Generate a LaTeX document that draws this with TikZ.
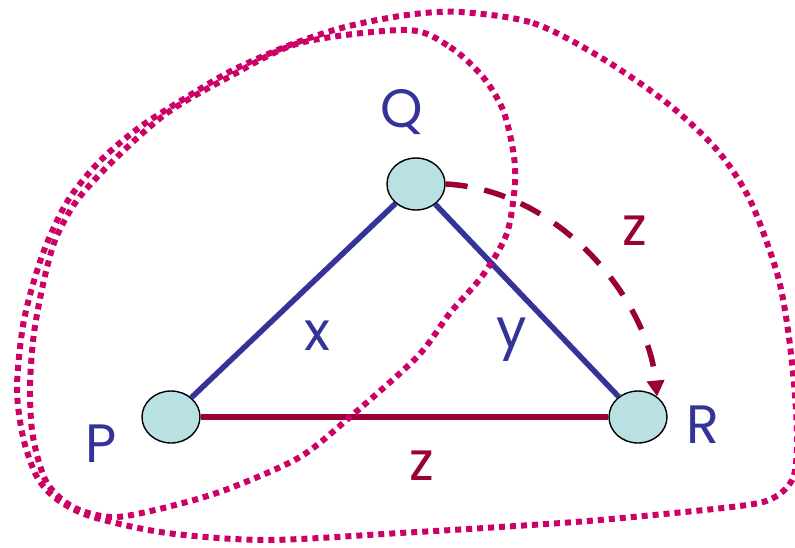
\documentclass[tikz,border=0pt]{standalone}
\usepackage{fontspec}
\setmainfont{Poppins}
\usetikzlibrary{shapes.geometric,arrows.meta}

\definecolor{edgeblue}{HTML}{333399}
\definecolor{edgered}{HTML}{990033}
\definecolor{cutpink}{HTML}{CC0066}
\definecolor{vertfill}{HTML}{B9E0E3}

\tikzset{
  vert/.style={ellipse, draw=black, line width=1.4pt, fill=vertfill,
    minimum width=58pt, minimum height=52pt, inner sep=0pt},
  lbl/.style={anchor=base, inner sep=0pt, font=\fontsize{54}{58}\selectfont},
  cut/.style={cutpink, line width=6pt, dash pattern=on 6pt off 5pt},
}

\begin{document}
\begin{tikzpicture}[x=1pt, y=-1pt, >={Triangle[length=16pt,width=17pt]}]
    \useasboundingbox (0,0) rectangle (795,547);

    \node[vert] (P) at (171,417) {};
    \node[vert] (Q) at (416,184) {};
    \node[vert] (R) at (638,417) {};

    \draw[edgeblue, line width=5.5pt] (P) -- (Q) -- (R);
    \draw[edgered, line width=5.5pt] (P.east) -- (R.west);
    \draw[edgered, line width=5.5pt, dash pattern=on 22pt off 17pt, ->]
      (Q.east) .. controls (560,190) and (648,300) .. (R.47);

    \node[lbl, text=edgeblue] (labP) at (101,462) {P};
    \node[lbl, text=edgeblue] (labQ) at (402,127) {Q};
    \node[lbl, text=edgeblue] (labR) at (703,443) {R};
    \node[lbl, text=edgeblue] (labx) at (317,350) {x};
    \node[lbl, text=edgeblue] (laby) at (512,347) {y};
    \node[lbl, text=edgered] (labz) at (422,480) {z};
    \node[lbl, text=edgered] (labzz) at (635,245) {z};

    % the two cuts
    \draw[cut] plot[smooth cycle] coordinates {
      (460,12) (533,23) (600,57) (667,103) (717,150) (750,200) (777,273)
      (788,330) (795,395) (797,445) (793,478) (775,497) (740,506) (600,520)
      (500,527) (400,533) (267,540) (167,533) (93,517) (58,500) (37,477)
      (23,437) (17,387) (24,320) (42,256) (67,202) (100,161) (140,127)
      (187,97) (233,70) (290,45) (345,27) (407,15)};
    \draw[cut] plot[smooth cycle] coordinates {
      (407,30) (450,47) (483,77) (503,110) (513,150) (515,183) (507,233)
      (483,275) (450,313) (417,357) (350,417) (300,457) (233,487) (183,503)
      (117,517) (75,508) (47,483) (33,437) (30,387) (34,333) (44,280)
      (56,238) (78,199) (117,157) (167,113) (227,78) (300,43)};
\end{tikzpicture}
\end{document}
